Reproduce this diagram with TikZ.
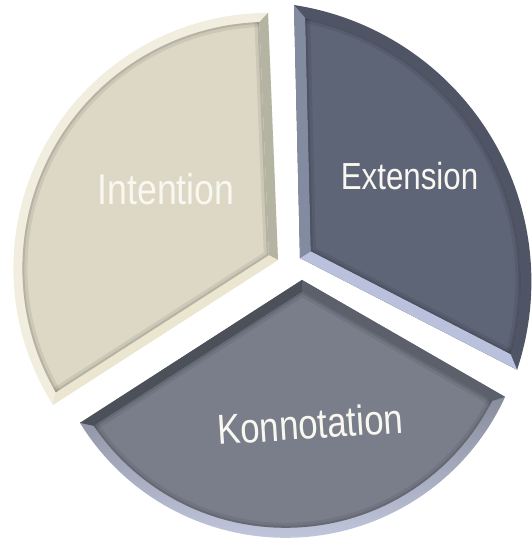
\documentclass[tikz,border=0pt]{standalone}
\usepackage{fontspec}
\newfontfamily\lblfont{Liberation Sans}[FakeStretch=0.83]
\usetikzlibrary{calc,intersections}
\definecolor{intFace}{HTML}{DCD8C5}
\definecolor{intArc}{HTML}{F1EEDF}
\definecolor{intEa}{HTML}{B5B3A1}
\definecolor{intEb}{HTML}{EAE6D0}
\definecolor{extFace}{HTML}{5E6577}
\definecolor{extArc}{HTML}{4F5565}
\definecolor{extEa}{HTML}{BAC1DC}
\definecolor{extEb}{HTML}{838BA0}
\definecolor{konFace}{HTML}{7A7E8B}
\definecolor{konEa}{HTML}{4C5059}
\definecolor{konEb}{HTML}{5C606B}
\definecolor{konArcTop}{HTML}{5A5E6A}
\definecolor{konArcBot}{HTML}{CDD3EA}
\definecolor{txtLight}{HTML}{F8F7F0}
% #1 prefix, #2 apex, #3 arc centre, #4 radius, #5 start angle, #6 end angle, #7 bevel width
\newcommand{\bevelsector}[7]{%
  \coordinate (#1A) at #2;
  \coordinate (#1C) at #3;
  \coordinate (#1P1) at ($(#1C)+(#5:#4)$);
  \coordinate (#1P2) at ($(#1C)+(#6:#4)$);
  \coordinate (#1Q1a) at ($(#1A)!#7pt!90:(#1P1)$);
  \coordinate (#1Q1b) at ($(#1P1)!#7pt!-90:(#1A)$);
  \coordinate (#1Q2a) at ($(#1P2)!#7pt!90:(#1A)$);
  \coordinate (#1Q2b) at ($(#1A)!#7pt!-90:(#1P2)$);
  \coordinate (#1X) at (intersection of #1Q1a--#1Q1b and #1Q2a--#1Q2b);
  \path[name path=#1ic] (#1C) circle[radius=#4-#7];
  \path[name path=#1la] (#1X) -- ($(#1X)!1.3!(#1Q1b)$);
  \path[name path=#1lb] (#1X) -- ($(#1X)!1.3!(#1Q2a)$);
  \path[name intersections={of=#1ic and #1la, by={#1I1}}];
  \path[name intersections={of=#1ic and #1lb, by={#1I2}}];
  \path[#1 arc] (#1A) -- (#1P1) arc[start angle=#5, end angle=#6, radius=#4] -- cycle;
  \fill[#1 ea] (#1A) -- (#1P1) -- (#1I1) -- (#1X) -- cycle;
  \fill[#1 eb] (#1A) -- (#1P2) -- (#1I2) -- (#1X) -- cycle;
  \begin{scope}
    \clip (#1X) -- ($(#1X)!4!(#1I1)$) -- ($(#1X)!4!(#1I2)$) -- cycle;
    \clip (#1C) circle[radius=#4-#7];
    \fill[#1 face] (#1C) circle[radius=#4-#7];
    \draw[black, opacity=0.07, line width=10pt] (#1C) circle[radius=#4-#7];
    \draw[black, opacity=0.10, line width=4pt] (#1C) circle[radius=#4-#7];
    \draw[black, opacity=0.07, line width=10pt] ($(#1X)!4!(#1I1)$) -- (#1X) -- ($(#1X)!4!(#1I2)$);
    \draw[black, opacity=0.10, line width=4pt] ($(#1X)!4!(#1I1)$) -- (#1X) -- ($(#1X)!4!(#1I2)$);
  \end{scope}
}
\tikzset{
  int arc/.style={fill=intArc},
  int ea/.style={fill=intEa},
  int eb/.style={fill=intEb},
  int face/.style={fill=intFace},
  ext arc/.style={fill=extArc},
  ext ea/.style={fill=extEa},
  ext eb/.style={fill=extEb},
  ext face/.style={fill=extFace},
  kon arc/.style={top color=konArcTop, bottom color=konArcBot},
  kon ea/.style={fill=konEa},
  kon eb/.style={fill=konEb},
  kon face/.style={fill=konFace},
  lbl/.style={text=txtLight, inner sep=0pt, font=\lblfont},
}
\begin{document}
\begin{tikzpicture}[x=1pt, y=1pt]
  \useasboundingbox[fill=white] (0,0) rectangle (531,543);
  \bevelsector{int}{(278,283)}{(268.9,274.6)}{255.5}{90.2}{212.3}{9}
  \bevelsector{ext}{(300,285)}{(251.7,261.5)}{279.7}{-18.4}{81.3}{11}
  \bevelsector{kon}{(302,263)}{(285.6,246.6)}{241.4}{211.6}{335.4}{10}
  \node[lbl, font=\lblfont\fontsize{43}{50}\selectfont] (tInt) at (166,353.5) {Intention};
  \node[lbl, font=\lblfont\fontsize{37.7}{44}\selectfont] (tExt) at (409.5,366.5) {Extension};
  \node[lbl, font=\lblfont\fontsize{42}{48}\selectfont, rotate=3.7] (tKon) at (310,119) {Konnotation};
\end{tikzpicture}
\end{document}
